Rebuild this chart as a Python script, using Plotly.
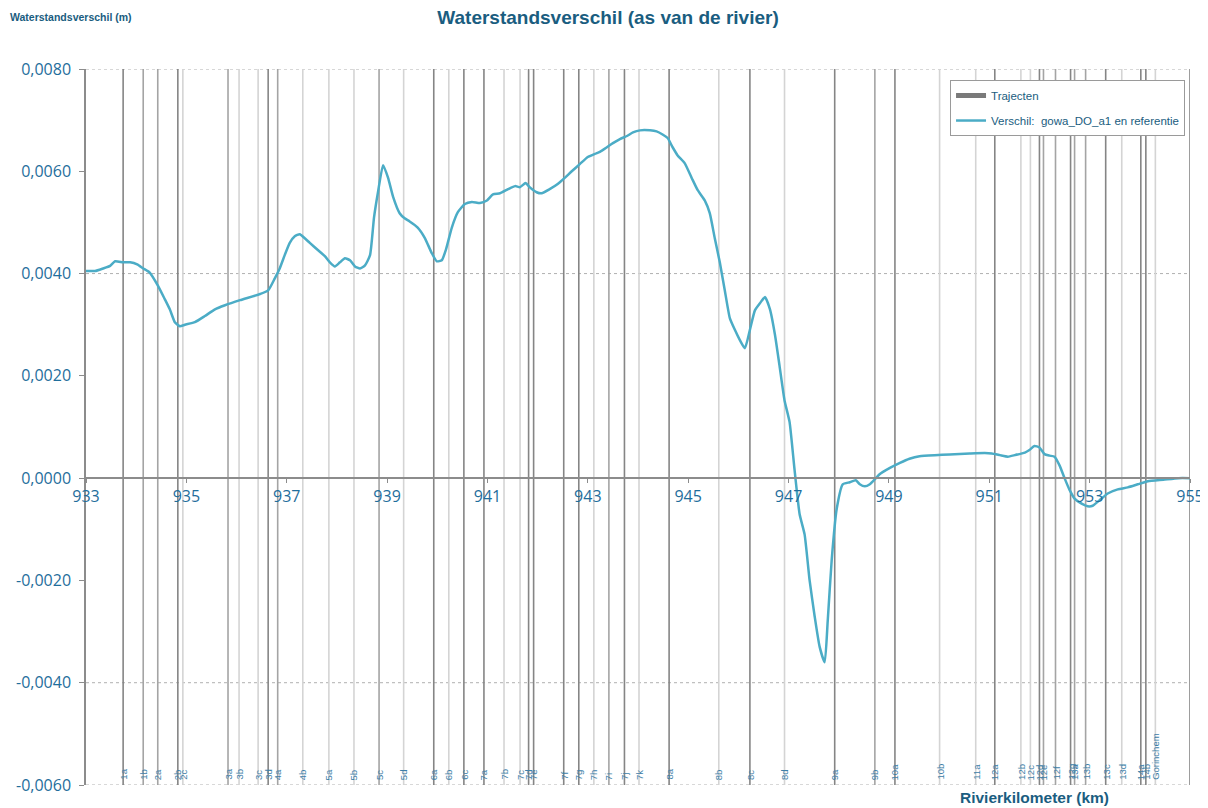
import plotly.graph_objects as go

# ---------------- data ----------------
km = [933.00, 933.18, 933.34, 933.48, 933.58, 933.74, 933.88, 934.02, 934.14, 934.27,
      934.43, 934.57, 934.67, 934.77, 934.87, 934.97, 935.17, 935.37, 935.57, 935.77,
      936.07, 936.47, 936.63, 936.76, 936.86, 936.96, 937.06, 937.16, 937.26, 937.36,
      937.46, 937.62, 937.76, 937.86, 937.96, 938.06, 938.16, 938.26, 938.36, 938.46,
      938.56, 938.66, 938.74, 938.82, 938.92, 939.02, 939.12, 939.25, 939.35, 939.45,
      939.61, 939.75, 939.89, 939.99, 940.09, 940.17, 940.29, 940.41, 940.55, 940.69,
      940.85, 940.99, 941.11, 941.25, 941.41, 941.55, 941.65, 941.76, 941.84, 941.98,
      942.08, 942.24, 942.40, 942.54, 942.68, 942.84, 943.00, 943.14, 943.24, 943.38,
      943.50, 943.64, 943.78, 943.90, 944.04, 944.24, 944.37, 944.49, 944.59, 944.69,
      944.79, 944.93, 945.07, 945.19, 945.33, 945.43, 945.53, 945.63, 945.73, 945.83,
      945.93, 946.03, 946.13, 946.23, 946.33, 946.43, 946.53, 946.63, 946.73, 946.82,
      946.92, 947.02, 947.12, 947.22, 947.32, 947.42, 947.52, 947.62, 947.72, 947.78,
      947.86, 947.96, 948.08, 948.22, 948.34, 948.42, 948.52, 948.62, 948.74, 948.82,
      949.02, 949.22, 949.41, 949.61, 949.91, 950.21, 950.61, 950.91, 951.05, 951.21,
      951.37, 951.51, 951.71, 951.80, 951.90, 952.00, 952.10, 952.20, 952.30, 952.40,
      952.50, 952.60, 952.70, 952.84, 952.96, 953.06, 953.20, 953.36, 953.56, 953.76,
      953.96, 954.16, 954.47, 954.77, 955.00]

verschil = [0.00405, 0.00405, 0.00410, 0.00415, 0.00424, 0.00422, 0.00422, 0.00418, 0.00410, 0.00402,
            0.00377, 0.00350, 0.00330, 0.00305, 0.00297, 0.00300, 0.00305, 0.00317, 0.00330, 0.00338,
            0.00348, 0.00360, 0.00367, 0.00390, 0.00410, 0.00436, 0.00460, 0.00473, 0.00477, 0.00469,
            0.00460, 0.00446, 0.00434, 0.00422, 0.00414, 0.00422, 0.00430, 0.00426, 0.00414, 0.00410,
            0.00416, 0.00436, 0.00510, 0.00560, 0.00612, 0.00587, 0.00550, 0.00518, 0.00508, 0.00502,
            0.00490, 0.00470, 0.00440, 0.00424, 0.00426, 0.00446, 0.00490, 0.00520, 0.00536, 0.00540,
            0.00538, 0.00543, 0.00555, 0.00557, 0.00565, 0.00571, 0.00569, 0.00577, 0.00569, 0.00559,
            0.00557, 0.00565, 0.00575, 0.00587, 0.00600, 0.00614, 0.00628, 0.00634, 0.00638, 0.00647,
            0.00655, 0.00663, 0.00669, 0.00676, 0.00680, 0.00680, 0.00678, 0.00672, 0.00665, 0.00647,
            0.00631, 0.00616, 0.00587, 0.00563, 0.00543, 0.00518, 0.00469, 0.00422, 0.00367, 0.00313,
            0.00290, 0.00270, 0.00254, 0.00290, 0.00328, 0.00342, 0.00354, 0.00330, 0.00280, 0.00220,
            0.00152, 0.00110, 0.00016, -0.00070, -0.00110, -0.00200, -0.00270, -0.00330, -0.00360, -0.00280,
            -0.00160, -0.00060, -0.00012, -0.00008, -0.00004, -0.00012, -0.00016, -0.00012, 0.00000, 0.00008,
            0.00020, 0.00030, 0.00038, 0.00043, 0.00045, 0.00046, 0.00048, 0.00049, 0.00048, 0.00045,
            0.00042, 0.00045, 0.00050, 0.00055, 0.00063, 0.00060, 0.00047, 0.00044, 0.00042, 0.00025,
            0.00000, -0.00023, -0.00040, -0.00050, -0.00055, -0.00054, -0.00043, -0.00030, -0.00022, -0.00018,
            -0.00012, -0.00006, -0.00003, 0.00000, 0.00000]

traject_km = [933.74, 934.14, 934.43, 934.83, 934.93, 935.83, 936.05, 936.43, 936.63, 936.82,
              937.32, 937.84, 938.34, 938.84, 939.33, 939.93, 940.23, 940.53, 940.93, 941.33,
              941.65, 941.82, 941.92, 942.52, 942.82, 943.12, 943.42, 943.73, 944.02, 944.62,
              945.61, 946.23, 946.92, 947.92, 948.72, 949.12, 950.01, 950.73, 951.11, 951.63,
              951.82, 952.00, 952.08, 952.32, 952.62, 952.70, 952.92, 953.32, 953.64, 954.02,
              954.12, 954.31, 955.00]
traject_naam = ["1a", "1b", "2a", "2b", "2c", "3a", "3b", "3c", "3d", "4a",
                "4b", "5a", "5b", "5c", "5d", "6a", "6b", "6c", "7a", "7b",
                "7c", "7d", "7e", "7f", "7g", "7h", "7i", "7j", "7k", "8a",
                "8b", "8c", "8d", "9a", "9b", "10a", "10b", "11a", "12a", "12b",
                "12c", "12d", "12e", "12f", "12g", "13a", "13b", "13c", "13d", "14a",
                "14b", "Gorinchem", ""]
# h = hoofdgrens, m = tussengrens, l = lichte grens
traject_soort = ["h", "m", "m", "h", "l", "m", "l", "l", "h", "m",
                 "l", "l", "l", "m", "l", "h", "l", "h", "h", "l",
                 "l", "h", "h", "h", "h", "l", "m", "h", "l", "h",
                 "l", "h", "l", "h", "m", "h", "l", "l", "h", "l",
                 "l", "h", "m", "m", "h", "m", "m", "h", "l", "h",
                 "h", "l", "h"]

x_ticks = [933, 935, 937, 939, 941, 943, 945, 947, 949, 951, 953, 955]
y_ticks = [0.008, 0.006, 0.004, 0.002, 0.0, -0.002, -0.004, -0.006]
y_tick_labels = ["0,0080", "0,0060", "0,0040", "0,0020", "0,0000", "-0,0020", "-0,0040", "-0,0060"]
grid_levels = [0.008, 0.004, -0.004, -0.006]

Y_MIN, Y_MAX = -0.006, 0.008
X_MIN, X_MAX = 933, 955

# ---------------- styles ----------------
TEXT = "#1a5d80"
TICK = "#1f6e9c"
LINE_COL = {"h": "#858585", "m": "#a4a4a4", "l": "#d4d4d4"}

fig = go.Figure()

# vertical traject boundaries
for soort in ["l", "m", "h"]:
    xs, ys = [], []
    for k, s in zip(traject_km, traject_soort):
        if s == soort:
            xs += [k, k, None]
            ys += [Y_MIN, Y_MAX, None]
    fig.add_trace(go.Scatter(x=xs, y=ys, mode="lines", showlegend=False,
                             line=dict(color=LINE_COL[soort], width=1.6),
                             hoverinfo="skip"))

# legend entry for trajecten
fig.add_trace(go.Scatter(x=[None], y=[None], mode="lines", name="Trajecten",
                         legendgroup="a", line=dict(color="#7a7a7a", width=5)))

# water level difference line
fig.add_trace(go.Scatter(x=km, y=verschil, mode="lines", legendgroup="b",
                         name="Verschil:  gowa_DO_a1 en referentie",
                         line=dict(color="#4BACC6", width=2.5, shape="spline", smoothing=0.5)))

# horizontal dotted gridlines
for g in grid_levels:
    fig.add_shape(type="line", xref="x", yref="y", x0=X_MIN, x1=X_MAX, y0=g, y1=g,
                  line=dict(color="#b0b0b0", width=1, dash="dot"), layer="below")

# traject labels
for k, n in zip(traject_km, traject_naam):
    if n:
        fig.add_annotation(x=k, y=Y_MIN, xref="x", yref="y", text=n, textangle=-90,
                           showarrow=False, xanchor="center", yanchor="bottom", yshift=3,
                           font=dict(size=9.5, color="#3d80a8", family="Liberation Sans"))

# axis titles
fig.add_annotation(text="<b>Waterstandsverschil (m)</b>", xref="paper", yref="paper",
                   x=-0.0707, y=1.0726, xanchor="left", yanchor="middle", showarrow=False,
                   font=dict(size=10.5, color=TEXT, family="Liberation Sans"))
fig.add_annotation(text="<b>Rivierkilometer (km)</b>", xref="paper", yref="paper",
                   x=0.8596, y=-0.0168, xanchor="center", yanchor="middle", showarrow=False,
                   font=dict(size=15.5, color=TEXT, family="Liberation Sans"))

# the page adds an 8 px body margin, so the figure is 1200x800 placed at (8, 8)
fig.update_layout(
    width=1200, height=800,
    margin=dict(l=78, r=18, t=61, b=23, autoexpand=False),
    paper_bgcolor="white", plot_bgcolor="white",
    title=dict(text="<b>Waterstandsverschil (as van de rivier)</b>", x=0.5, xanchor="center",
               y=0.9888, yanchor="middle", yref="container",
               font=dict(size=19, color=TEXT, family="Liberation Sans")),
    xaxis=dict(range=[X_MIN, X_MAX], tickvals=x_ticks, ticktext=[str(t) for t in x_ticks],
               anchor="free", position=(0 - Y_MIN) / (Y_MAX - Y_MIN), automargin=False,
               showline=True, linecolor="#8c8c8c", linewidth=1.5,
               ticks="outside", ticklen=4, tickcolor="#8c8c8c",
               showgrid=False, zeroline=False,
               tickfont=dict(size=16, color=TICK, family="Open Sans")),
    yaxis=dict(range=[Y_MIN, Y_MAX], tickvals=y_ticks, ticktext=y_tick_labels, automargin=False,
               showline=True, linecolor="#8c8c8c", linewidth=1.5,
               ticks="outside", ticklen=5, tickcolor="#8c8c8c", ticklabelstandoff=5,
               showgrid=False, zeroline=False,
               tickfont=dict(size=16, color=TICK, family="Open Sans")),
    legend=dict(x=0.9955, y=0.9846, xanchor="right", yanchor="top",
                bgcolor="white", bordercolor="#9a9a9a", borderwidth=1,
                tracegroupgap=6, itemwidth=30,
                font=dict(size=11.5, color=TEXT, family="Liberation Sans")),
    showlegend=True,
)

fig.write_html("out.html")
